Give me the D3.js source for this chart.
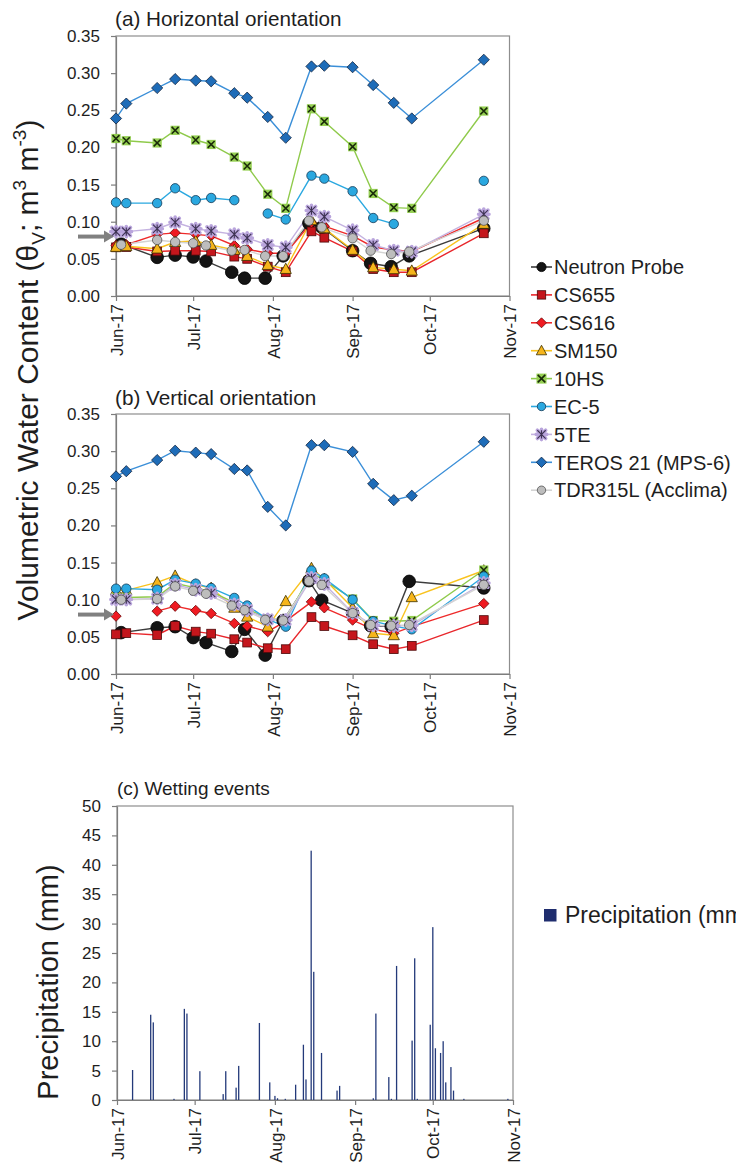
<!DOCTYPE html>
<html>
<head>
<meta charset="utf-8">
<script src="https://cdn.jsdelivr.net/npm/d3@7"></script>
<style>
  html, body { margin: 0; padding: 0; background: #fff; }
  svg { display: block; }
  text { font-family: "Liberation Sans", Arial, Helvetica, sans-serif; fill: #1e1e1e; }
</style>
</head>
<body>
<svg id="chart" width="736" height="1171"></svg>
<script>
// ---- sampling dates ----
const sensorDates = ["2017-06-01","2017-06-05","2017-06-17","2017-06-24","2017-07-02","2017-07-08",
  "2017-07-17","2017-07-22","2017-07-30","2017-08-06","2017-08-16","2017-08-21","2017-09-01",
  "2017-09-09","2017-09-17","2017-09-24","2017-10-22"];
const probeDates = ["2017-06-03","2017-06-17","2017-06-24","2017-07-01","2017-07-06","2017-07-16",
  "2017-07-21","2017-07-29","2017-08-05","2017-08-15","2017-08-20","2017-09-01","2017-09-08",
  "2017-09-16","2017-09-23","2017-10-22"];

// ---- (a) horizontal orientation, volumetric water content (m3 m-3) ----
const neutronA = [0.070,0.052,0.055,0.0525,0.047,0.032,0.024,0.024,0.054,0.098,0.0925,0.061,0.044,0.0395,0.054,0.091];
const cs655A   = [0.0655,0.066,0.060,0.061,0.061,0.060,0.053,0.050,0.0395,0.032,0.087,0.0785,0.060,0.0363,0.032,0.032,0.0844];
const cs616A   = [0.068,0.069,0.083,0.085,0.083,0.081,0.068,0.063,0.0575,0.0575,0.099,0.094,0.081,0.066,0.062,0.060,0.105];
const sm150A   = [0.066,0.067,0.0637,0.0727,0.074,0.0687,0.062,0.0538,0.0417,0.0363,0.102,0.091,0.062,0.0386,0.036,0.034,0.097];
const hs10A    = [0.212,0.209,0.206,0.223,0.210,0.204,0.187,0.175,0.137,0.118,0.252,0.235,0.201,0.138,0.119,0.118,0.249];
const ec5A     = [0.126,0.125,0.125,0.145,0.129,0.132,0.129,null,0.111,0.103,0.162,0.158,0.141,0.105,0.097,null,0.155];
const te5A     = [0.0866,0.0866,0.0906,0.0992,0.0906,0.0875,0.083,0.078,0.0687,0.0655,0.115,0.1068,0.0884,0.0687,0.061,0.0597,0.110];
const terosA   = [0.239,0.259,0.280,0.292,0.290,0.289,0.273,0.267,0.241,0.213,0.309,0.310,0.308,0.284,0.260,0.239,0.318];
const tdrA     = [0.069,0.0754,0.0727,0.071,0.068,0.061,0.062,0.0538,0.0538,0.1014,0.0925,0.0777,0.061,0.0565,0.0597,0.1014];

// ---- (b) vertical orientation ----
const neutronB = [0.0557,0.0623,0.0637,0.049,0.0423,0.0303,0.0601,0.0254,0.072,0.1256,0.0993,0.082,0.065,0.064,0.1247,0.1158];
const cs655B   = [0.0534,0.055,0.0525,0.0646,0.057,0.0543,0.0468,0.0423,0.0347,0.0334,0.0766,0.0646,0.0521,0.0401,0.0334,0.0379,0.0726];
const cs616B   = [0.0779,null,0.0846,0.0913,0.0855,0.0815,0.0681,0.0646,0.057,0.0712,0.0971,0.0891,0.0726,0.0601,0.0548,0.0637,0.0948];
const sm150B   = [0.1126,0.1126,0.1233,0.1322,0.1202,0.1158,0.0891,0.0771,0.0637,0.098,0.1425,0.1278,0.0891,0.0548,0.0521,0.1033,0.1393];
const hs10B    = [0.103,0.103,0.104,0.122,0.116,0.111,0.096,0.088,0.074,0.073,0.136,0.126,0.101,0.072,0.071,0.072,0.140];
const ec5B     = [0.1149,0.1149,0.1135,0.127,0.1216,0.1158,0.1024,0.0922,0.0735,0.0637,0.1393,0.1287,0.1002,0.0712,0.0645,0.0601,0.1313];
const te5B     = [0.1002,0.1002,0.1015,0.1202,0.1135,0.1091,0.0935,0.0859,0.0735,0.0726,0.1292,0.1212,0.0824,0.0655,0.0646,0.0655,0.1225];
const terosB   = [0.266,0.273,0.288,0.3006,0.298,0.296,0.276,0.274,0.225,0.200,0.308,0.308,0.299,0.256,0.234,0.240,0.3126];
const tdrB     = [0.100,0.101,0.118,0.112,0.108,0.092,0.086,0.073,0.072,0.125,0.120,0.082,0.066,0.065,0.066,0.120];

// ---- (c) daily precipitation (mm) ----
const precipDates = ["2017-06-07","2017-06-14","2017-06-15","2017-06-23","2017-06-27","2017-06-28","2017-07-03",
  "2017-07-12","2017-07-13","2017-07-17","2017-07-18","2017-07-26","2017-07-30","2017-08-01","2017-08-02",
  "2017-08-05","2017-08-09","2017-08-12","2017-08-13","2017-08-15","2017-08-16","2017-08-19","2017-08-25",
  "2017-08-26","2017-09-08","2017-09-09","2017-09-14","2017-09-15","2017-09-17","2017-09-23","2017-09-24",
  "2017-09-25","2017-09-30","2017-10-01","2017-10-02","2017-10-04","2017-10-05","2017-10-06","2017-10-08",
  "2017-10-09","2017-10-13","2017-10-30"];
const precipMm = [5.1,14.5,13.2,0.2,15.5,14.7,4.9,
  1.0,4.9,2.1,5.8,13.1,3.0,0.7,0.3,
  0.2,2.6,9.4,3.5,42.4,21.8,8.0,1.6,
  2.4,0.3,14.7,3.9,0.2,22.8,10.1,24.1,
  0.2,12.8,29.4,8.8,8.0,10.0,3.0,5.6,
  1.6,0.2,0.2];

// ---- axis ticks ----
const vwcTicks = [0, 0.05, 0.10, 0.15, 0.20, 0.25, 0.30, 0.35];
const precipTicks = [0, 5, 10, 15, 20, 25, 30, 35, 40, 45, 50];
const monthTicks = ["2017-06-01","2017-07-01","2017-08-01","2017-09-01","2017-10-01","2017-11-01"];

// ---- series appearance ----
const seriesNames = ["Neutron Probe","CS655","CS616","SM150","10HS","EC-5","5TE","TEROS 21 (MPS-6)","TDR315L (Acclima)"];
const seriesStyle = {
  "Neutron Probe":     { line: "#3c3c3c", kind: "circle",   fill: "#141414", stroke: "#000",    size: 6.3, legendSize: 4.6 },
  "CS655":             { line: "#e8262b", kind: "square",   fill: "#c4161c", stroke: "#4d0a0a", size: 4.4, legendSize: 4.2 },
  "CS616":             { line: "#ee2a2a", kind: "diamond",  fill: "#ef1b22", stroke: "#6a0707", size: 5.2, legendSize: 5.0 },
  "SM150":             { line: "#f9c31f", kind: "triangle", fill: "#f6b51b", stroke: "#3a3000", size: 5.6, legendSize: 5.2 },
  "10HS":              { line: "#8fca4b", kind: "xbox",     fill: "#95cf52", stroke: "#1a2a0a", size: 4.6, legendSize: 5.0 },
  "EC-5":              { line: "#2aa8e0", kind: "circle",   fill: "#2aa8e0", stroke: "#163a55", size: 4.7, legendSize: 4.2 },
  "5TE":               { line: "#c4b2e0", kind: "asterisk", fill: "#b9a5dc", stroke: "#3d3252", size: 5.2, legendSize: 5.2 },
  "TEROS 21 (MPS-6)":  { line: "#3b8fd8", kind: "diamond",  fill: "#1e6cb8", stroke: "#142640", size: 5.6, legendSize: 5.2 },
  "TDR315L (Acclima)": { line: "#d4d4d4", kind: "circle",   fill: "#bdbdbd", stroke: "#505050", size: 4.7, legendSize: 4.2 }
};

const parse = d3.timeParse("%Y-%m-%d");
const svg = d3.select("#chart");
const fmtMonth = d3.timeFormat("%b-%y");
const domainX = [parse("2017-06-01"), parse("2017-11-01")];
const axisGray = "#7d7d7d";

function drawMarker(g, st, r) {
  const k = st.kind;
  if (k === "circle") {
    g.append("circle").attr("r", r).attr("fill", st.fill).attr("stroke", st.stroke).attr("stroke-width", 0.8);
  } else if (k === "square") {
    g.append("rect").attr("x", -r).attr("y", -r).attr("width", 2 * r).attr("height", 2 * r)
      .attr("fill", st.fill).attr("stroke", st.stroke).attr("stroke-width", 0.8);
  } else if (k === "diamond") {
    g.append("path").attr("d", `M0,${-r}L${r},0L0,${r}L${-r},0Z`)
      .attr("fill", st.fill).attr("stroke", st.stroke).attr("stroke-width", 0.8);
  } else if (k === "triangle") {
    const h = r * 1.05;
    g.append("path").attr("d", `M0,${-h}L${r},${h * 0.75}L${-r},${h * 0.75}Z`)
      .attr("fill", st.fill).attr("stroke", st.stroke).attr("stroke-width", 0.8);
  } else if (k === "xbox") {
    g.append("rect").attr("x", -r).attr("y", -r).attr("width", 2 * r).attr("height", 2 * r)
      .attr("fill", st.fill).attr("stroke", "none");
    const a = r * 0.75;
    g.append("path").attr("d", `M${-a},${-a}L${a},${a}M${-a},${a}L${a},${-a}`)
      .attr("stroke", st.stroke).attr("stroke-width", 1.6).attr("fill", "none");
  } else if (k === "asterisk") {
    const a = r * 0.8;
    const star = `M${-a},${-a}L${a},${a}M${-a},${a}L${a},${-a}M0,${-r}L0,${r}M${-r},0L${r},0`;
    g.append("path").attr("d", star).attr("stroke", st.fill).attr("stroke-width", 3.6)
      .attr("stroke-linecap", "round").attr("fill", "none");
    g.append("path").attr("d", `M${-a},${-a}L${a},${a}M${-a},${a}L${a},${-a}M0,${-r * 0.8}L0,${r * 0.8}`)
      .attr("stroke", st.stroke).attr("stroke-width", 1.1).attr("fill", "none");
  }
}

function styleAxis(g) {
  g.selectAll(".domain").attr("stroke", axisGray).attr("stroke-width", 1.2);
  g.selectAll(".tick line").attr("stroke", axisGray).attr("stroke-width", 1.2);
  g.selectAll(".tick text").attr("fill", "#1e1e1e").style("font-size", "17px")
    .style("font-family", '"Liberation Sans", Arial, sans-serif');
}

function xAxisBottom(g, x, yPos) {
  const ax = g.append("g").attr("transform", `translate(0,${yPos})`)
    .call(d3.axisBottom(x).tickValues(monthTicks.map(parse)).tickFormat(fmtMonth).tickSize(5).tickSizeOuter(0));
  ax.selectAll(".tick text")
    .attr("transform", "rotate(-90)")
    .attr("text-anchor", "end")
    .attr("x", -8).attr("y", 0).attr("dy", "0.36em");
  styleAxis(ax);
}

function drawArrow(g, yPix) {
  g.append("line").attr("x1", 78).attr("x2", 105).attr("y1", yPix).attr("y2", yPix)
    .attr("stroke", "#808080").attr("stroke-width", 4);
  g.append("path").attr("d", `M104,${yPix - 6}L114,${yPix}L104,${yPix + 6}Z`).attr("fill", "#808080");
}

function vwcPanel(top, bottom, title, titleY, data) {
  const left = 116, right = 509.5;
  const x = d3.scaleTime().domain(domainX).range([left, right]);
  const y = d3.scaleLinear().domain([0, 0.35]).range([bottom, top]);
  const g = svg.append("g");

  g.append("rect").attr("x", left).attr("y", top).attr("width", right - left).attr("height", bottom - top)
    .attr("fill", "none").attr("stroke", "#8e8e8e").attr("stroke-width", 1.2);

  const ay = g.append("g").attr("transform", `translate(${left},0)`)
    .call(d3.axisLeft(y).tickValues(vwcTicks).tickFormat(d3.format(".2f")).tickSize(5).tickPadding(11).tickSizeOuter(0));
  styleAxis(ay);
  xAxisBottom(g, x, bottom);

  g.append("text").attr("x", 115).attr("y", titleY).style("font-size", "20.7px").text(title);

  // lines first, then markers, series in legend order
  seriesNames.forEach(name => {
    const st = seriesStyle[name];
    const dates = data[name].dates.map(parse);
    const vals = data[name].values;
    const pts = vals.map((v, i) => ({ d: dates[i], v }));
    const line = d3.line().defined(p => p.v !== null).x(p => x(p.d)).y(p => y(p.v));
    g.append("path").attr("d", line(pts)).attr("fill", "none")
      .attr("stroke", st.line).attr("stroke-width", 1.4);
  });
  seriesNames.forEach(name => {
    const st = seriesStyle[name];
    const dates = data[name].dates.map(parse);
    data[name].values.forEach((v, i) => {
      if (v === null) return;
      const m = g.append("g").attr("transform", `translate(${x(dates[i])},${y(v)})`);
      drawMarker(m, st, st.size);
    });
  });

  drawArrow(g, y(0.08));
}

vwcPanel(36, 296, "(a) Horizontal orientation", 26, {
  "Neutron Probe": { dates: probeDates, values: neutronA },
  "CS655": { dates: sensorDates, values: cs655A },
  "CS616": { dates: sensorDates, values: cs616A },
  "SM150": { dates: sensorDates, values: sm150A },
  "10HS": { dates: sensorDates, values: hs10A },
  "EC-5": { dates: sensorDates, values: ec5A },
  "5TE": { dates: sensorDates, values: te5A },
  "TEROS 21 (MPS-6)": { dates: sensorDates, values: terosA },
  "TDR315L (Acclima)": { dates: probeDates, values: tdrA }
});

vwcPanel(414, 674, "(b) Vertical orientation", 405, {
  "Neutron Probe": { dates: probeDates, values: neutronB },
  "CS655": { dates: sensorDates, values: cs655B },
  "CS616": { dates: sensorDates, values: cs616B },
  "SM150": { dates: sensorDates, values: sm150B },
  "10HS": { dates: sensorDates, values: hs10B },
  "EC-5": { dates: sensorDates, values: ec5B },
  "5TE": { dates: sensorDates, values: te5B },
  "TEROS 21 (MPS-6)": { dates: sensorDates, values: terosB },
  "TDR315L (Acclima)": { dates: probeDates, values: tdrB }
});

// shared y-axis title for (a) and (b)
const yt = svg.append("text").attr("transform", "translate(38,370) rotate(-90)")
  .attr("text-anchor", "middle").style("font-size", "30px");
yt.append("tspan").text("Volumetric Water Content (θ");
yt.append("tspan").attr("dy", 7).style("font-size", "19px").text("V");
yt.append("tspan").attr("dy", -7).text("; m");
yt.append("tspan").attr("dy", -12).style("font-size", "19px").text("3");
yt.append("tspan").attr("dy", 12).text(" m");
yt.append("tspan").attr("dy", -12).style("font-size", "19px").text("-3");
yt.append("tspan").attr("dy", 12).text(")");

// sensor legend
const lg = svg.append("g");
seriesNames.forEach((name, i) => {
  const st = seriesStyle[name];
  const cy = 267 + i * 27.9;
  lg.append("line").attr("x1", 531).attr("x2", 552).attr("y1", cy).attr("y2", cy)
    .attr("stroke", st.line).attr("stroke-width", 1.6);
  const m = lg.append("g").attr("transform", `translate(541.5,${cy})`);
  drawMarker(m, st, st.legendSize);
  lg.append("text").attr("x", 554).attr("y", cy).attr("dy", "0.36em")
    .style("font-size", "20px").text(name);
});

// ---- (c) precipitation panel ----
(function () {
  const left = 117, right = 513, top = 806, bottom = 1100;
  const x = d3.scaleTime().domain(domainX).range([left, right]);
  const y = d3.scaleLinear().domain([0, 50]).range([bottom, top]);
  const g = svg.append("g");

  g.append("rect").attr("x", left).attr("y", top).attr("width", right - left).attr("height", bottom - top)
    .attr("fill", "none").attr("stroke", "#8e8e8e").attr("stroke-width", 1.2);

  const bars = precipDates.map((d, i) => ({ d: parse(d), v: precipMm[i] }));
  g.selectAll("rect.bar").data(bars).enter().append("rect").attr("class", "bar")
    .attr("x", b => x(b.d) - 0.6).attr("width", 1.3)
    .attr("y", b => y(b.v)).attr("height", b => y(0) - y(b.v))
    .attr("fill", "#243a7a");

  const ay = g.append("g").attr("transform", `translate(${left},0)`)
    .call(d3.axisLeft(y).tickValues(precipTicks).tickFormat(d3.format("d")).tickSize(5).tickPadding(11).tickSizeOuter(0));
  styleAxis(ay);
  xAxisBottom(g, x, bottom);

  g.append("text").attr("x", 117).attr("y", 795).style("font-size", "19px").text("(c) Wetting events");

  svg.append("text").attr("transform", "translate(58,982) rotate(-90)")
    .attr("text-anchor", "middle").style("font-size", "29px").text("Precipitation (mm)");

  svg.append("rect").attr("x", 544).attr("y", 909).attr("width", 12.5).attr("height", 12.5).attr("fill", "#1f2d6e");
  svg.append("text").attr("x", 565).attr("y", 915).attr("dy", "0.36em").style("font-size", "23px")
    .text("Precipitation (mm)");
})();
</script>
</body>
</html>
